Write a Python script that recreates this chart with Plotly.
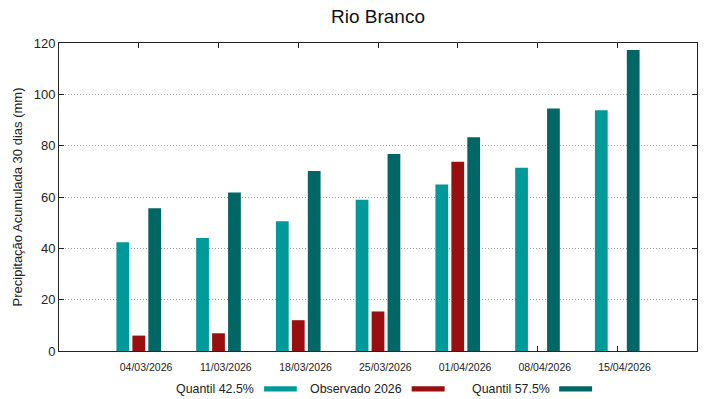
import plotly.graph_objects as go

# ---- data ----
dates = ["04/03/2026", "11/03/2026", "18/03/2026", "25/03/2026",
         "01/04/2026", "08/04/2026", "15/04/2026"]
q425 = [42.4, 44.0, 50.6, 58.9, 64.9, 71.4, 93.8]
observado = [6.0, 6.9, 12.0, 15.4, 73.7, None, None]
q575 = [55.6, 61.8, 70.1, 76.8, 83.3, 94.5, 117.3]
series_names = ["Quantil 42.5%", "Observado 2026", "Quantil 57.5%"]
colors = ["#009999", "#990f0f", "#006666"]
y_ticks = [0, 20, 40, 60, 80, 100, 120]

W, H = 719, 399
L, R, T, B = 58.7, 21.7, 43.3, 48.3
FONT = "Liberation Sans, Arial, sans-serif"
NB = "\u00a0" * 5  # gnuplot draws the date labels slightly right of the tick

fig = go.Figure()
for name, vals, col in zip(series_names, [q425, observado, q575], colors):
    fig.add_trace(go.Bar(x=list(range(len(dates))), y=vals, name=name,
                         marker=dict(color=col, line=dict(width=0)),
                         showlegend=False, hoverinfo="skip"))

fig.update_layout(
    width=W, height=H,
    margin=dict(l=L, r=R, t=T, b=B, pad=0),
    paper_bgcolor="white", plot_bgcolor="white",
    font=dict(family=FONT, color="#222222"),
    barmode="group", bargap=0.4, bargroupgap=0.2,
    title=dict(text="Rio Branco", x=(L + (W - R)) / 2 / W, xanchor="center",
               y=1 - 16 / H, yanchor="middle",
               font=dict(size=19, family=FONT, color="#111111")),
)
fig.update_xaxes(
    range=[-1, len(dates)], tickmode="array",
    tickvals=list(range(len(dates))), ticktext=[NB + d for d in dates],
    tickfont=dict(size=10.5, family=FONT, color="#222222"),
    ticks="inside", ticklen=5, tickcolor="#222222", tickwidth=1,
    showline=True, linecolor="#222222", linewidth=1, mirror="ticks",
    showgrid=False, zeroline=False, layer="below traces",
    ticklabelstandoff=6,
)
fig.update_yaxes(
    range=[0, 120], tickmode="array", tickvals=y_ticks,
    tickfont=dict(size=13, family=FONT, color="#222222"),
    ticks="inside", ticklen=5, tickcolor="#222222", tickwidth=1,
    showline=True, linecolor="#222222", linewidth=1, mirror="ticks",
    showgrid=True, gridcolor="#a0a0a0", griddash="1px,2px", gridwidth=1,
    zeroline=False, layer="below traces",
    title=dict(text="Precipitação Acumulada 30 dias (mm)",
               font=dict(size=13, family=FONT, color="#222222"), standoff=8),
)

# legend drawn gnuplot-style: label followed by colour sample
pw = W - L - R
ph = H - T - B
def px2paper_x(px):
    return (px - L) / pw
def px2paper_y(py):
    return (H - B - py) / ph

legend_items = [(256, 264, 296.7), (404, 411.7, 444.7), (551.7, 559.3, 592.3)]
ly = 388.5
for (tx, s0, s1), name, col in zip(legend_items, series_names, colors):
    fig.add_annotation(text=name, xref="paper", yref="paper",
                       x=px2paper_x(tx), y=px2paper_y(ly),
                       xanchor="right", yanchor="middle", showarrow=False,
                       font=dict(size=12.4, family=FONT, color="#222222"))
    fig.add_shape(type="rect", xref="paper", yref="paper",
                  x0=px2paper_x(s0), x1=px2paper_x(s1),
                  y0=px2paper_y(ly + 2.5), y1=px2paper_y(ly - 2.5),
                  fillcolor=col, line=dict(width=0))

fig.write_html("out.html",
               config={"displayModeBar": False},
               post_script="document.body.style.margin='0';"
                           "document.body.style.overflow='hidden';")
